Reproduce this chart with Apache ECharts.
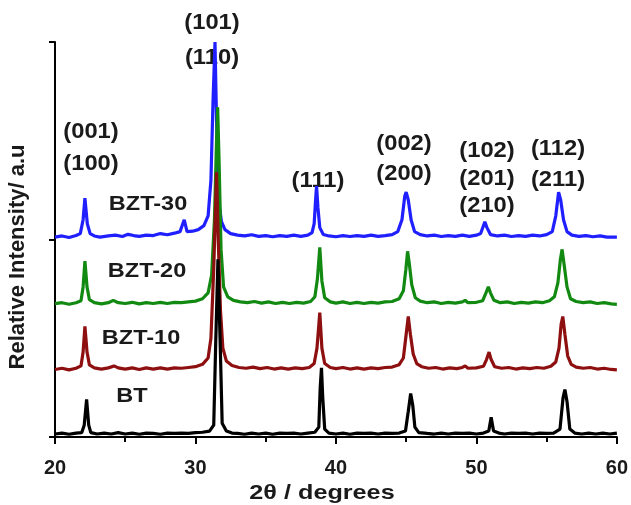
<!DOCTYPE html>
<html>
<head>
<meta charset="utf-8">
<script src="https://cdn.jsdelivr.net/npm/echarts@6/dist/echarts.min.js"></script>
<style>html,body{margin:0;padding:0;background:#fff}#c{width:631px;height:505px}</style>
</head>
<body>
<div id="c"></div>
<script>
// 2θ (degrees) vs relative intensity (stacked, arbitrary units)
var xTicks = [20, 30, 40, 50, 60];
var seriesNames = ['BZT-30', 'BZT-20', 'BZT-10', 'BT'];
var seriesColors = ['#1f1fff', '#128a12', '#8e0f0f', '#000000'];

var bzt30 = [
  [20,1.012],[20.5,1.018],[21,1.010],[21.5,1.020],[21.8,1.030],[22.0,1.100],[22.13,1.210],[22.3,1.080],[22.5,1.030],[22.8,1.018],
  [23.2,1.012],[23.8,1.018],[24.3,1.022],[24.8,1.015],[25.2,1.026],[25.6,1.020],[26.0,1.016],[26.5,1.022],[27.0,1.020],[27.5,1.030],
  [28.0,1.024],[28.5,1.032],[28.9,1.040],[29.2,1.100],[29.4,1.040],[29.8,1.042],[30.2,1.050],[30.6,1.070],[30.9,1.120],[31.1,1.300],
  [31.25,1.700],[31.39,2.000],[31.5,1.600],[31.65,1.200],[31.85,1.090],[32.1,1.050],[32.5,1.030],[33.0,1.022],[33.5,1.018],[34.0,1.024],
  [34.5,1.016],[35.0,1.020],[35.5,1.014],[36.0,1.020],[36.5,1.016],[37.0,1.022],[37.5,1.016],[38.0,1.022],[38.3,1.035],[38.45,1.080],
  [38.55,1.200],[38.62,1.270],[38.72,1.160],[38.85,1.060],[39.1,1.025],[39.5,1.018],[40.0,1.014],[40.5,1.020],[41.0,1.015],[41.5,1.020],
  [42.0,1.016],[42.5,1.022],[43.0,1.016],[43.5,1.020],[44.0,1.025],[44.4,1.040],[44.7,1.100],[44.9,1.220],[45.0,1.240],[45.15,1.200],
  [45.35,1.100],[45.6,1.040],[46.0,1.025],[46.5,1.018],[47.0,1.022],[47.5,1.015],[48.0,1.020],[48.5,1.016],[49.0,1.022],[49.5,1.016],
  [50.0,1.022],[50.3,1.030],[50.5,1.070],[50.6,1.090],[50.75,1.060],[51.0,1.025],[51.5,1.018],[52.0,1.022],[52.5,1.015],[53.0,1.020],
  [53.5,1.016],[54.0,1.022],[54.5,1.018],[55.0,1.025],[55.4,1.040],[55.65,1.120],[55.85,1.240],[56.0,1.200],[56.2,1.100],[56.45,1.040],
  [56.8,1.022],[57.3,1.016],[57.8,1.020],[58.3,1.014],[58.8,1.018],[59.3,1.012],[60,1.012]
];

var bzt20 = [
  [20,0.675],[20.5,0.680],[21,0.672],[21.5,0.680],[21.85,0.690],[22.0,0.760],[22.13,0.890],[22.28,0.760],[22.45,0.695],[22.8,0.680],
  [23.3,0.674],[23.8,0.680],[24.15,0.692],[24.5,0.680],[25.0,0.676],[25.5,0.682],[26.0,0.674],[26.5,0.680],[27.0,0.676],[27.5,0.682],
  [28.0,0.676],[28.5,0.682],[29.0,0.680],[29.5,0.684],[30.0,0.688],[30.5,0.700],[30.9,0.730],[31.15,0.820],[31.35,1.100],[31.5,1.500],
  [31.58,1.670],[31.68,1.400],[31.82,0.950],[32.0,0.760],[32.3,0.710],[32.7,0.692],[33.2,0.684],[33.7,0.680],[34.2,0.686],[34.7,0.678],
  [35.2,0.684],[35.7,0.676],[36.2,0.682],[36.7,0.676],[37.2,0.682],[37.7,0.678],[38.2,0.686],[38.5,0.710],[38.68,0.800],[38.85,0.960],
  [39.0,0.790],[39.2,0.705],[39.6,0.684],[40.0,0.678],[40.5,0.684],[41.0,0.676],[41.5,0.682],[42.0,0.676],[42.5,0.682],[43.0,0.678],
  [43.5,0.684],[44.0,0.686],[44.5,0.700],[44.8,0.740],[44.98,0.850],[45.1,0.940],[45.22,0.880],[45.4,0.770],[45.65,0.705],[46.0,0.688],
  [46.5,0.680],[47.0,0.684],[47.5,0.676],[48.0,0.682],[48.5,0.678],[49.0,0.684],[49.2,0.692],[49.4,0.680],[50.0,0.682],[50.45,0.690],
  [50.68,0.730],[50.85,0.760],[51.0,0.730],[51.25,0.692],[51.7,0.680],[52.2,0.684],[52.7,0.676],[53.2,0.682],[53.7,0.678],[54.2,0.684],
  [54.7,0.680],[55.2,0.690],[55.55,0.710],[55.8,0.780],[55.98,0.900],[56.1,0.950],[56.25,0.870],[56.45,0.760],[56.7,0.700],[57.1,0.686],
  [57.6,0.680],[58.1,0.684],[58.6,0.676],[59.1,0.680],[59.6,0.674],[60,0.672]
];

var bzt10 = [
  [20,0.342],[20.5,0.348],[21,0.340],[21.5,0.348],[21.85,0.360],[22.0,0.430],[22.13,0.560],[22.28,0.430],[22.45,0.365],[22.8,0.350],
  [23.3,0.344],[23.8,0.350],[24.2,0.360],[24.5,0.350],[25.0,0.344],[25.5,0.350],[26.0,0.342],[26.5,0.350],[27.0,0.344],[27.5,0.350],
  [28.0,0.344],[28.5,0.350],[29.0,0.348],[29.5,0.352],[30.0,0.356],[30.5,0.368],[30.9,0.400],[31.1,0.500],[31.3,0.850],[31.5,1.340],
  [31.62,1.000],[31.78,0.640],[31.95,0.450],[32.2,0.385],[32.6,0.362],[33.1,0.352],[33.6,0.348],[34.1,0.354],[34.6,0.346],[35.1,0.352],
  [35.6,0.344],[36.1,0.350],[36.6,0.344],[37.1,0.350],[37.6,0.346],[38.1,0.352],[38.45,0.372],[38.65,0.450],[38.85,0.630],[39.0,0.450],
  [39.2,0.372],[39.6,0.352],[40.0,0.346],[40.5,0.352],[41.0,0.344],[41.5,0.350],[42.0,0.344],[42.5,0.350],[43.0,0.346],[43.5,0.352],
  [44.0,0.354],[44.5,0.366],[44.8,0.400],[45.0,0.520],[45.15,0.610],[45.3,0.520],[45.5,0.420],[45.75,0.372],[46.1,0.356],[46.6,0.348],
  [47.1,0.352],[47.6,0.344],[48.1,0.350],[48.6,0.346],[49.0,0.352],[49.2,0.360],[49.4,0.348],[50.0,0.350],[50.5,0.358],[50.72,0.392],
  [50.9,0.430],[51.05,0.392],[51.3,0.356],[51.8,0.348],[52.3,0.352],[52.8,0.344],[53.3,0.350],[53.8,0.346],[54.3,0.352],[54.8,0.348],
  [55.3,0.358],[55.65,0.380],[55.88,0.450],[56.03,0.570],[56.15,0.610],[56.3,0.520],[56.5,0.410],[56.75,0.368],[57.1,0.354],[57.6,0.348],
  [58.1,0.352],[58.6,0.344],[59.1,0.348],[59.6,0.342],[60,0.340]
];

var bt = [
  [20,0.015],[20.5,0.020],[21,0.014],[21.5,0.020],[21.9,0.022],[22.08,0.060],[22.25,0.190],[22.4,0.060],[22.55,0.022],[23,0.015],
  [23.5,0.020],[24,0.015],[24.5,0.022],[25,0.015],[25.5,0.020],[26,0.014],[26.5,0.020],[27,0.018],[27.5,0.014],[28,0.020],
  [28.5,0.018],[29,0.020],[29.5,0.018],[30,0.022],[30.5,0.024],[31,0.030],[31.3,0.060],[31.45,0.500],[31.6,0.900],[31.75,0.500],
  [31.9,0.070],[32.2,0.030],[32.6,0.020],[33,0.018],[33.5,0.014],[34,0.020],[34.5,0.015],[35,0.020],[35.5,0.014],[36,0.020],
  [36.5,0.018],[37,0.020],[37.5,0.015],[38,0.020],[38.5,0.024],[38.78,0.050],[38.88,0.250],[38.97,0.350],[39.06,0.200],[39.2,0.040],
  [39.5,0.020],[40,0.015],[40.5,0.020],[41,0.014],[41.5,0.020],[42,0.018],[42.5,0.020],[43,0.015],[43.5,0.020],[44,0.018],
  [44.5,0.020],[44.95,0.030],[45.15,0.130],[45.32,0.220],[45.47,0.160],[45.62,0.050],[45.9,0.022],[46.5,0.018],[47,0.015],[47.5,0.020],
  [48,0.015],[48.5,0.020],[49,0.018],[49.5,0.020],[50,0.015],[50.5,0.020],[50.88,0.030],[51.05,0.100],[51.22,0.030],[51.6,0.020],
  [52,0.015],[52.5,0.020],[53,0.018],[53.5,0.020],[54,0.015],[54.5,0.020],[55,0.018],[55.5,0.020],[55.95,0.040],[56.17,0.200],
  [56.3,0.240],[56.45,0.180],[56.65,0.040],[57,0.020],[57.5,0.015],[58,0.020],[58.5,0.015],[59,0.020],[59.5,0.015],[60,0.020]
];

var seriesData = [bzt30, bzt20, bzt10, bt];

// Text annotations (peak indices and sample names)
var peakLabels = ['(101)', '(110)', '(001)', '(100)', '(111)', '(002)', '(200)', '(102)', '(201)', '(210)', '(112)', '(211)'];
var xAxisName = '2θ / degrees';
var yAxisName = 'Relative Intensity/ a.u';

// pixel placement of the text (layout only)
var peakPos = [[212,23],[212,58],[91,132],[91,164],[318,181],[404,144],[404,174],[487,151],[487,179],[487,206],[558,149],[558,180]];
var namePos = [[148,204],[147,271],[141,338],[132,396]];

var chart = echarts.init(document.getElementById('c'), null, {renderer: 'canvas'});

var graphics = [];
peakLabels.forEach(function (t, i) {
  graphics.push({type: 'text', x: peakPos[i][0], y: peakPos[i][1], scaleX: 1.08,
    style: {text: t, x: 0, y: 0, textAlign: 'center', textVerticalAlign: 'middle',
      font: 'bold 22px "Liberation Sans", Arial, sans-serif', fill: '#1a1a1a'}});
});
seriesNames.forEach(function (t, i) {
  graphics.push({type: 'text', x: namePos[i][0], y: namePos[i][1], scaleX: 1.12,
    style: {text: t, x: 0, y: 0, textAlign: 'center', textVerticalAlign: 'middle',
      font: 'bold 21px "Liberation Sans", Arial, sans-serif', fill: '#1a1a1a'}});
});
graphics.push({type: 'text', x: 322, y: 493, scaleX: 1.2,
  style: {text: xAxisName, x: 0, y: 0, textAlign: 'center', textVerticalAlign: 'middle',
    font: 'bold 21px "Liberation Sans", Arial, sans-serif', fill: '#1a1a1a'}});
graphics.push({type: 'text', x: 18, y: 257, rotation: Math.PI / 2,
  style: {text: yAxisName, x: 0, y: 0, textAlign: 'center', textVerticalAlign: 'middle',
    font: 'bold 22px "Liberation Sans", Arial, sans-serif', fill: '#1a1a1a'}});

var option = {
  animation: false,
  backgroundColor: '#ffffff',
  grid: {left: 55, right: 14, top: 42, bottom: 68, containLabel: false},
  xAxis: {
    type: 'value', min: xTicks[0], max: xTicks[xTicks.length - 1], interval: 10,
    axisLine: {show: true, onZero: false, lineStyle: {color: '#000', width: 2}},
    axisTick: {show: true, inside: false, length: 7, lineStyle: {color: '#000', width: 2}},
    minorTick: {show: true, splitNumber: 2, length: 5, lineStyle: {color: '#000', width: 2}},
    splitLine: {show: false},
    axisLabel: {show: true, margin: 21, color: '#1a1a1a',
      fontFamily: '"Liberation Sans", Arial, sans-serif', fontWeight: 'bold', fontSize: 20}
  },
  yAxis: {
    type: 'value', min: 0, max: 2, interval: 1,
    axisLine: {show: true, lineStyle: {color: '#000', width: 2}},
    axisTick: {show: true, inside: false, length: 6, lineStyle: {color: '#000', width: 2}},
    splitLine: {show: false},
    axisLabel: {show: false}
  },
  graphic: graphics,
  series: seriesNames.map(function (n, i) {
    return {
      name: n, type: 'line', data: seriesData[i], showSymbol: false, smooth: false,
      lineStyle: {color: seriesColors[i], width: 3.2}, z: 2 + i
    };
  })
};
chart.setOption(option);
</script>
</body>
</html>
